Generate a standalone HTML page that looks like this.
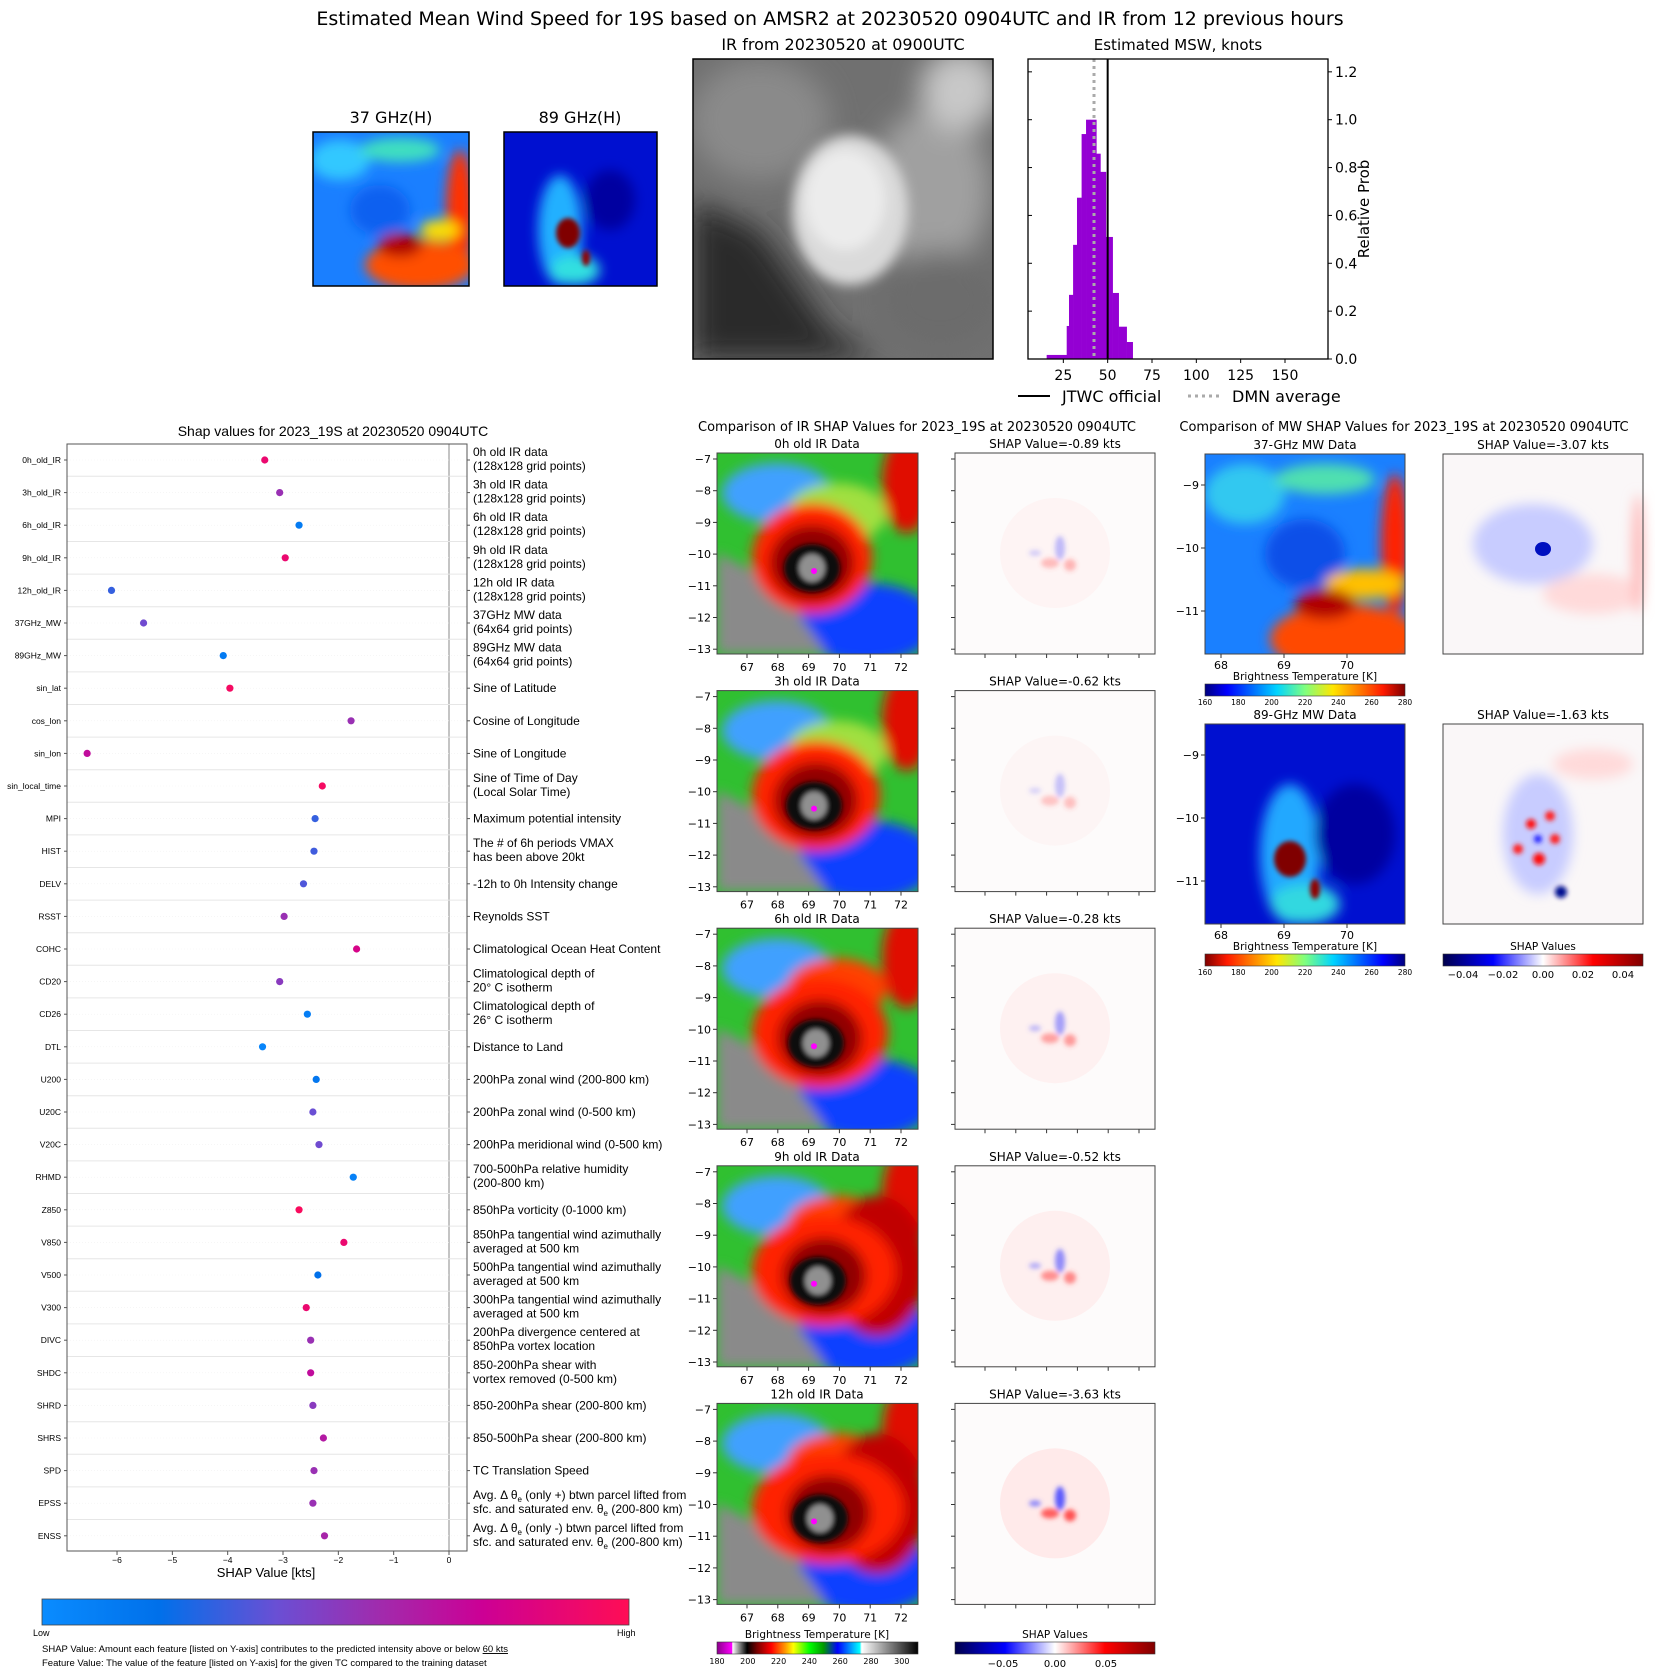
<!DOCTYPE html>
<html><head><meta charset="utf-8"><style>
html,body{margin:0;padding:0;background:#fff}
svg{display:block}
text{font-family:"DejaVu Sans","Liberation Sans",sans-serif;fill:#000}
.s{font-family:"Liberation Sans",sans-serif}
</style></head><body>
<svg id="fig" width="1655" height="1674" viewBox="0 0 1655 1674" xmlns="http://www.w3.org/2000/svg">
<defs>
<linearGradient id="jet" x1="0" x2="1" y1="0" y2="0">
<stop offset="0" stop-color="#00007f"/><stop offset="0.11" stop-color="#0000ff"/><stop offset="0.36" stop-color="#00d4ff"/><stop offset="0.5" stop-color="#7fff7f"/><stop offset="0.64" stop-color="#ffe600"/><stop offset="0.89" stop-color="#ff1a00"/><stop offset="1" stop-color="#7f0000"/></linearGradient>
<linearGradient id="jetr" x1="1" x2="0" y1="0" y2="0">
<stop offset="0" stop-color="#00007f"/><stop offset="0.11" stop-color="#0000ff"/><stop offset="0.36" stop-color="#00d4ff"/><stop offset="0.5" stop-color="#7fff7f"/><stop offset="0.64" stop-color="#ffe600"/><stop offset="0.89" stop-color="#ff1a00"/><stop offset="1" stop-color="#7f0000"/></linearGradient>
<linearGradient id="seis" x1="0" x2="1"><stop offset="0" stop-color="#00004c"/><stop offset="0.25" stop-color="#0000ff"/><stop offset="0.5" stop-color="#ffffff"/><stop offset="0.75" stop-color="#ff0000"/><stop offset="1" stop-color="#800000"/></linearGradient>
<linearGradient id="irc" x1="0" x2="1">
<stop offset="0" stop-color="#8a008a"/><stop offset="0.075" stop-color="#ff00ff"/><stop offset="0.077" stop-color="#ffffff"/><stop offset="0.15" stop-color="#000000"/><stop offset="0.2" stop-color="#7a0000"/><stop offset="0.27" stop-color="#ff0000"/><stop offset="0.34" stop-color="#ff9900"/><stop offset="0.38" stop-color="#ffff00"/><stop offset="0.46" stop-color="#00ff00"/><stop offset="0.53" stop-color="#009900"/><stop offset="0.6" stop-color="#0000ff"/><stop offset="0.71" stop-color="#00ffff"/><stop offset="0.72" stop-color="#ffffff"/><stop offset="1" stop-color="#000000"/></linearGradient>
<linearGradient id="shapc" x1="0" x2="1"><stop offset="0" stop-color="#0a8cff"/><stop offset="0.2" stop-color="#0070ea"/><stop offset="0.4" stop-color="#6a4fd4"/><stop offset="0.58" stop-color="#a22aac"/><stop offset="0.75" stop-color="#cc0095"/><stop offset="1" stop-color="#ff0d55"/></linearGradient>
<filter id="bl" x="-20%" y="-20%" width="140%" height="140%"><feGaussianBlur stdDeviation="6"/></filter>
<filter id="bl2" x="-20%" y="-20%" width="140%" height="140%"><feGaussianBlur stdDeviation="2.5"/></filter>
<filter id="bl3" x="-20%" y="-20%" width="140%" height="140%"><feGaussianBlur stdDeviation="14"/></filter>
</defs>

<text x="830" y="25" font-size="19" text-anchor="middle">Estimated Mean Wind Speed for 19S based on AMSR2 at 20230520 0904UTC and IR from 12 previous hours</text>

<text x="391" y="123" font-size="16" text-anchor="middle">37 GHz(H)</text>
<g>
<clipPath id="c37"><rect x="313" y="132" width="156" height="154"/></clipPath>
<g clip-path="url(#c37)"><rect x="313" y="132" width="156" height="154" fill="#1a7fff"/>
<g filter="url(#bl)"><ellipse cx="340" cy="160" rx="30" ry="20" fill="#30c8ff"/><ellipse cx="400" cy="150" rx="40" ry="12" fill="#40e0c0"/><ellipse cx="380" cy="210" rx="30" ry="25" fill="#1060f0"/><ellipse cx="460" cy="210" rx="14" ry="60" fill="#ff3000"/><ellipse cx="420" cy="265" rx="55" ry="25" fill="#ff5000"/><ellipse cx="400" cy="245" rx="22" ry="12" fill="#b00000"/><ellipse cx="440" cy="230" rx="20" ry="10" fill="#ffe000"/></g></g>
<rect x="313" y="132" width="156" height="154" fill="none" stroke="#000" stroke-width="1.5"/></g>

<text x="580" y="123" font-size="16" text-anchor="middle">89 GHz(H)</text>
<g>
<clipPath id="c89"><rect x="504" y="132" width="153" height="154"/></clipPath>
<g clip-path="url(#c89)"><rect x="504" y="132" width="153" height="154" fill="#0010d0"/>
<g filter="url(#bl)"><ellipse cx="560" cy="230" rx="22" ry="55" fill="#20b0ff"/><ellipse cx="575" cy="270" rx="25" ry="15" fill="#30e0e0"/><ellipse cx="610" cy="200" rx="25" ry="30" fill="#0000a0"/></g>
<g filter="url(#bl2)"><ellipse cx="568" cy="233" rx="12" ry="15" fill="#800000"/><ellipse cx="586" cy="258" rx="4" ry="8" fill="#900000"/></g></g>
<rect x="504" y="132" width="153" height="154" fill="none" stroke="#000" stroke-width="1.5"/></g>

<text x="843" y="50" font-size="16" text-anchor="middle">IR from 20230520 at 0900UTC</text>
<g>
<clipPath id="cir"><rect x="693" y="59" width="300" height="300"/></clipPath>
<g clip-path="url(#cir)"><rect x="693" y="59" width="300" height="300" fill="#707070"/>
<g filter="url(#bl3)"><polygon points="693,200 760,230 830,330 880,359 693,359" fill="#2c2c2c"/><ellipse cx="760" cy="120" rx="70" ry="60" fill="#8a8a8a"/><ellipse cx="930" cy="190" rx="60" ry="80" fill="#a0a0a0"/><ellipse cx="960" cy="90" rx="40" ry="40" fill="#c8c8c8"/><ellipse cx="940" cy="300" rx="60" ry="50" fill="#6c6c6c"/></g>
<g filter="url(#bl)"><ellipse cx="850" cy="210" rx="58" ry="75" fill="#dadada"/><ellipse cx="845" cy="200" rx="40" ry="50" fill="#ececec"/></g></g>
<rect x="693" y="59" width="300" height="300" fill="none" stroke="#000" stroke-width="1.5"/></g>

<g id="hist">
<text x="1178" y="50" font-size="15" text-anchor="middle">Estimated MSW, knots</text>
<g id="histBars"></g>
<g id="histAxes"></g>
<text transform="translate(1369,209) rotate(-90)" font-size="15" text-anchor="middle">Relative Prob</text>
<g>
<line x1="1018" y1="396" x2="1050" y2="396" stroke="#000" stroke-width="2"/>
<text x="1062" y="402" font-size="16">JTWC official</text>
<line x1="1188" y1="396" x2="1220" y2="396" stroke="#aaa" stroke-width="3" stroke-dasharray="3,4"/>
<text x="1232" y="402" font-size="16">DMN average</text></g>
</g>

<g id="shapplot">
<text class="s" x="333" y="436" font-size="14" text-anchor="middle">Shap values for 2023_19S at 20230520 0904UTC</text>
<g id="shapRows"></g>
<rect x="67" y="444" width="400" height="1107" fill="none" stroke="#555" stroke-width="1"/>
<g id="shapAxis"></g>
<text class="s" x="266" y="1577" font-size="13" text-anchor="middle">SHAP Value [kts]</text>
<rect x="42" y="1599" width="587" height="26" fill="url(#shapc)" stroke="#444" stroke-width="0.8"/>
<text class="s" x="33" y="1636" font-size="9">Low</text>
<text class="s" x="617" y="1636" font-size="9">High</text>
<text class="s" x="42" y="1652" font-size="9.5">SHAP Value: Amount each feature [listed on Y-axis] contributes to the predicted intensity above or below <tspan text-decoration="underline">60 kts</tspan></text>
<text class="s" x="42" y="1666" font-size="9.5">Feature Value: The value of the feature [listed on Y-axis] for the given TC compared to the training dataset</text>
</g>

<text x="917" y="431" font-size="13" text-anchor="middle">Comparison of IR SHAP Values for 2023_19S at 20230520 0904UTC</text>
<g id="irPanels"></g>
<g>
<text x="817" y="1638" font-size="10.5" text-anchor="middle">Brightness Temperature [K]</text>
<rect x="717" y="1642" width="201" height="12" fill="url(#irc)" stroke="#333" stroke-width="0.6"/>
<g id="irCbTicks"></g></g>
<g>
<text x="1055" y="1638" font-size="10.5" text-anchor="middle">SHAP Values</text>
<rect x="955" y="1642" width="200" height="12" fill="url(#seis)" stroke="#333" stroke-width="0.6"/>
<text x="1003" y="1667" font-size="10" text-anchor="middle">−0.05</text><text x="1055" y="1667" font-size="10" text-anchor="middle">0.00</text><text x="1106" y="1667" font-size="10" text-anchor="middle">0.05</text></g>

<text x="1404" y="431" font-size="13" text-anchor="middle">Comparison of MW SHAP Values for 2023_19S at 20230520 0904UTC</text>
<g id="mwPanels"></g>
</svg>
<script>
var NS="http://www.w3.org/2000/svg";
function mk(t,a,p){var e=document.createElementNS(NS,t);for(var k in a)e.setAttribute(k,a[k]);(p||document.getElementById('fig')).appendChild(e);return e;}

var binEdges=[15.6,26.9,28.2,30.5,32.7,35.3,37.8,40.0,43.6,45.9,49.0,52.8,56.2,60.7,64.1];
var binHeights=[0.017,0.138,0.268,0.477,0.674,0.94,1.0,1.0,0.858,0.782,0.51,0.276,0.135,0.071];
var jtwcValue=50;
var dmnValue=42.3;
var histXTicks=[25,50,75,100,125,150];
var histYTicks=[0.0,0.2,0.4,0.6,0.8,1.0,1.2];

var HX0=1028,HX1=1328,HY0=59,HY1=359;
function hx(v){return 1019+(v)*1.7733;}
function hy(v){return 359-v*239.3;}
var hb=document.getElementById('histBars');
for(var i=0;i<binHeights.length;i++){
 var r=mk('rect',{x:hx(binEdges[i]),y:hy(binHeights[i]),width:hx(binEdges[i+1])-hx(binEdges[i])+0.3,height:hy(0)-hy(binHeights[i]),fill:'#9400d3'},hb);
 
 
}
var ha=document.getElementById('histAxes');
var dl=mk('line',{x1:hx(dmnValue),x2:hx(dmnValue),y1:HY0,y2:HY1,stroke:'#aaa','stroke-width':3,'stroke-dasharray':'3,4'},ha);


var jl=mk('line',{x1:hx(jtwcValue),x2:hx(jtwcValue),y1:HY0,y2:HY1,stroke:'#000','stroke-width':2},ha);


mk('rect',{x:HX0,y:HY0,width:HX1-HX0,height:HY1-HY0,fill:'none',stroke:'#000','stroke-width':1.3},ha);
histXTicks.forEach(function(t){
 mk('line',{x1:hx(t),x2:hx(t),y1:HY1,y2:HY1+4,stroke:'#000'},ha);
 var tx=mk('text',{x:hx(t),y:HY1+21,'font-size':14,'text-anchor':'middle'},ha);tx.textContent=t;
 
 
});
histYTicks.forEach(function(t){
 mk('line',{x1:HX0,x2:HX0+4,y1:hy(t),y2:hy(t),stroke:'#000'},ha);
 mk('line',{x1:HX1,x2:HX1+4,y1:hy(t),y2:hy(t),stroke:'#000'},ha);
 var tx=mk('text',{x:HX1+7,y:hy(t)+5,'font-size':14},ha);tx.textContent=t.toFixed(1);
 
 
});

var featureNames=["0h_old_IR","3h_old_IR","6h_old_IR","9h_old_IR","12h_old_IR","37GHz_MW","89GHz_MW","sin_lat","cos_lon","sin_lon","sin_local_time","MPI","HIST","DELV","RSST","COHC","CD20","CD26","DTL","U200","U20C","V20C","RHMD","Z850","V850","V500","V300","DIVC","SHDC","SHRD","SHRS","SPD","EPSS","ENSS"];
var shapValues=[-3.33,-3.06,-2.71,-2.96,-6.1,-5.52,-4.08,-3.96,-1.77,-6.54,-2.29,-2.42,-2.44,-2.63,-2.98,-1.67,-3.06,-2.56,-3.37,-2.40,-2.46,-2.35,-1.73,-2.71,-1.90,-2.37,-2.58,-2.5,-2.5,-2.46,-2.27,-2.44,-2.46,-2.25];
var featureValues=[0.9,0.55,0.12,0.9,0.3,0.42,0.12,0.95,0.55,0.7,0.95,0.3,0.32,0.35,0.55,0.8,0.5,0.1,0.05,0.15,0.4,0.42,0.08,0.97,0.9,0.2,0.9,0.55,0.7,0.5,0.65,0.55,0.55,0.6];
var featureDescriptions=[["0h old IR data","(128x128 grid points)"],["3h old IR data","(128x128 grid points)"],["6h old IR data","(128x128 grid points)"],["9h old IR data","(128x128 grid points)"],["12h old IR data","(128x128 grid points)"],["37GHz MW data","(64x64 grid points)"],["89GHz MW data","(64x64 grid points)"],["Sine of Latitude"],["Cosine of Longitude"],["Sine of Longitude"],["Sine of Time of Day","(Local Solar Time)"],["Maximum potential intensity"],["The # of 6h periods VMAX","has been above 20kt"],["-12h to 0h Intensity change"],["Reynolds SST"],["Climatological Ocean Heat Content"],["Climatological depth of","20° C isotherm"],["Climatological depth of","26° C isotherm"],["Distance to Land"],["200hPa zonal wind (200-800 km)"],["200hPa zonal wind (0-500 km)"],["200hPa meridional wind (0-500 km)"],["700-500hPa relative humidity","(200-800 km)"],["850hPa vorticity (0-1000 km)"],["850hPa tangential wind azimuthally","averaged at 500 km"],["500hPa tangential wind azimuthally","averaged at 500 km"],["300hPa tangential wind azimuthally","averaged at 500 km"],["200hPa divergence centered at","850hPa vortex location"],["850-200hPa shear with","vortex removed (0-500 km)"],["850-200hPa shear (200-800 km)"],["850-500hPa shear (200-800 km)"],["TC Translation Speed"],["EPSS"],["ENSS"]];
var shapXTicks=[-6,-5,-4,-3,-2,-1,0];

function sx(v){return 449+v*55.33;}
function sy(i){return 460+i*32.6;}
var cstops=[[0,[10,140,255]],[0.2,[0,112,234]],[0.4,[106,79,212]],[0.58,[162,42,172]],[0.75,[204,0,149]],[1,[255,13,85]]];
function cmap(v){for(var k=1;k<cstops.length;k++){if(v<=cstops[k][0]){var a=cstops[k-1],b=cstops[k],t=(v-a[0])/(b[0]-a[0]);return 'rgb('+[0,1,2].map(function(j){return Math.round(a[1][j]+t*(b[1][j]-a[1][j]));}).join(',')+')';}}return 'rgb(255,13,85)';}
var rows=document.getElementById('shapRows');
mk('line',{x1:sx(0),x2:sx(0),y1:444,y2:1551,stroke:'#888','stroke-width':1},rows);
for(var i=0;i<featureNames.length;i++){
 var y=sy(i);
 if(i>0){mk('line',{x1:67,x2:467,y1:y-16.3,y2:y-16.3,stroke:'#e6e6e6','stroke-width':1},rows);}
 mk('line',{x1:67,x2:467,y1:y,y2:y,stroke:'#f2f2f2','stroke-width':0.6,'stroke-dasharray':'1,2'},rows);
 var lb=mk('text',{x:61,y:y+3,'font-size':8.5,'text-anchor':'end','class':'s'},rows);lb.textContent=featureNames[i];
 
 
 mk('line',{x1:64,x2:67,y1:y,y2:y,stroke:'#555'},rows);
 mk('line',{x1:467,x2:470,y1:y,y2:y,stroke:'#555'},rows);
 var d=mk('circle',{cx:sx(shapValues[i]),cy:y,r:3.6,fill:cmap(featureValues[i])},rows);
 
 
 var desc=featureDescriptions[i];
 var dt=mk('text',{x:473,y:0,'font-size':12,'class':'s'},rows);
 
 
 if(desc[0]==="EPSS"||desc[0]==="ENSS"){
  var sg=desc[0]==="EPSS"?"+":"-";
  var t1=mk('tspan',{x:473,y:y-4},dt);t1.textContent='Avg. Δ θ';
  var s1=mk('tspan',{'font-size':8,dy:3},t1);s1.textContent='e';
  var r1=mk('tspan',{dy:-3},t1);r1.textContent=' (only '+sg+') btwn parcel lifted from';
  var t2=mk('tspan',{x:473,y:y+10},dt);t2.textContent='sfc. and saturated env. θ';
  var s2=mk('tspan',{'font-size':8,dy:3},t2);s2.textContent='e';
  var r2=mk('tspan',{dy:-3},t2);r2.textContent=' (200-800 km)';
 } else if(desc.length===2){
  var a1=mk('tspan',{x:473,y:y-4},dt);a1.textContent=desc[0];
  var a2=mk('tspan',{x:473,y:y+10},dt);a2.textContent=desc[1];
 } else {dt.setAttribute('y',y+4);dt.textContent=desc[0];}
}
var sa=document.getElementById('shapAxis');
shapXTicks.forEach(function(t){
 mk('line',{x1:sx(t),x2:sx(t),y1:1551,y2:1555,stroke:'#555'},sa);
 var tx=mk('text',{x:sx(t),y:1563,'font-size':8.5,'text-anchor':'middle','class':'s'},sa);tx.textContent=(t<0?'−'+(-t):t);
 
 
});

var irLabels=["0h old IR Data","3h old IR Data","6h old IR Data","9h old IR Data","12h old IR Data"];
var irShapTitles=["SHAP Value=-0.89 kts","SHAP Value=-0.62 kts","SHAP Value=-0.28 kts","SHAP Value=-0.52 kts","SHAP Value=-3.63 kts"];
var irShapStrength=[0.35,0.3,0.5,0.6,0.9];
var latTicks=[-7,-8,-9,-10,-11,-12,-13];
var lonTicks=[67,68,69,70,71,72];
var irCbTicks=[180,200,220,240,260,280,300];
var P=document.getElementById('irPanels');
function lonX(x0,v){return x0+30+(v-67)*30.8;}
function latY(y0,v){return y0+6+(-7-v)*31.7;}
for(var r=0;r<5;r++){
 var y0=453+r*237.6,x0=717,x1=955;
 var g=mk('g',{},P);
 
 
 var t=mk('text',{x:x0+100,y:y0-5,'font-size':12,'text-anchor':'middle'},g);t.textContent=irLabels[r];
 var t2=mk('text',{x:x1+100,y:y0-5,'font-size':12,'text-anchor':'middle'},g);t2.textContent=irShapTitles[r];
 var cid='irc'+r;var cp=mk('clipPath',{id:cid},g);mk('rect',{x:x0,y:y0,width:201,height:201},cp);
 var im=mk('g',{'clip-path':'url(#'+cid+')'},g);
 
 
 mk('rect',{x:x0,y:y0,width:201,height:201,fill:'#30c030'},im);
 var b=mk('g',{filter:'url(#bl)'},im);
 var red=r===0?0:r*4;
 mk('ellipse',{cx:x0+60,cy:y0+40,rx:55,ry:30,fill:'#40a0ff'},b);
 mk('ellipse',{cx:x0+150,cy:y0+170,rx:70,ry:40,fill:'#1040ff'},b);
 mk('ellipse',{cx:x0+120,cy:y0+60,rx:50,ry:30,fill:(r>=2?'#ff4000':'#a0e040')},b);
 mk('ellipse',{cx:x0+190,cy:y0+30,rx:25,ry:50,fill:'#e01000'},b);
 if(r>=3)mk('ellipse',{cx:x0+160,cy:y0+100,rx:50,ry:70,fill:'#c00000'},b);
 mk('polygon',{points:[x0,y0+100,x0+60,y0+130,x0+110,y0+201,x0,y0+201].join(','),fill:'#8a8a8a'},b);
 mk('ellipse',{cx:x0+95+red,cy:y0+105,rx:60+red,ry:55,fill:'#ff2000'},b);
 mk('ellipse',{cx:x0+95+red,cy:y0+110,rx:42,ry:38,fill:'#900000'},b);
 var b2=mk('g',{filter:'url(#bl2)'},im);
 mk('ellipse',{cx:x0+95+red/2,cy:y0+115,rx:28,ry:24,fill:'#101010'},b2);
 mk('ellipse',{cx:x0+95+red/2,cy:y0+115,rx:13,ry:14,fill:'#909090'},b2);
 mk('circle',{cx:x0+97,cy:y0+118,r:3,fill:'#ff00ff'},im);
 mk('rect',{x:x0,y:y0,width:201,height:201,fill:'none',stroke:'#444','stroke-width':1},g);
 latTicks.forEach(function(v){var yy=latY(y0,v);mk('line',{x1:x0-4,x2:x0,y1:yy,y2:yy,stroke:'#333'},g);
  var tx=mk('text',{x:x0-6,y:yy+4,'font-size':11,'text-anchor':'end'},g);tx.textContent='−'+(-v);
  mk('line',{x1:x1-4,x2:x1,y1:yy,y2:yy,stroke:'#333'},g);});
 lonTicks.forEach(function(v){var xx=lonX(x0,v);mk('line',{x1:xx,x2:xx,y1:y0+201,y2:y0+205,stroke:'#333'},g);
  var tx=mk('text',{x:xx,y:y0+218,'font-size':11,'text-anchor':'middle'},g);tx.textContent=v;
  mk('line',{x1:lonX(x1,v),x2:lonX(x1,v),y1:y0+201,y2:y0+205,stroke:'#333'},g);});
 var sp=mk('g',{},g);
 
 
 mk('rect',{x:x1,y:y0,width:200,height:201,fill:'#fdfbfb'},sp);
 var s=irShapStrength[r];
 mk('circle',{cx:x1+100,cy:y0+100,r:55,fill:'#ffe8e8','fill-opacity':s},sp);
 var sb2=mk('g',{filter:'url(#bl2)'},sp);
 mk('ellipse',{cx:x1+105,cy:y0+95,rx:5,ry:12,fill:'#4a4aff','fill-opacity':s},sb2);
 mk('ellipse',{cx:x1+95,cy:y0+110,rx:9,ry:5,fill:'#ff5050','fill-opacity':s},sb2);
 mk('ellipse',{cx:x1+115,cy:y0+112,rx:6,ry:6,fill:'#ff4040','fill-opacity':s},sb2);
 mk('ellipse',{cx:x1+80,cy:y0+100,rx:6,ry:3,fill:'#6060ff','fill-opacity':s*0.8},sb2);
 mk('rect',{x:x1,y:y0,width:200,height:201,fill:'none',stroke:'#444','stroke-width':1},g);
}
var ict=document.getElementById('irCbTicks');
irCbTicks.forEach(function(v){var xx=717+(v-180)*1.54;var tx=mk('text',{x:xx,y:1664,'font-size':8,'text-anchor':'middle'},ict);tx.textContent=v;});

var mwLabels=["37-GHz MW Data","89-GHz MW Data"];
var mwShapTitles=["SHAP Value=-3.07 kts","SHAP Value=-1.63 kts"];
var mwLatTicks=[-9,-10,-11];
var mwLonTicks=[68,69,70];
var btTicks=[160,180,200,220,240,260,280];
var shapCbTicks=[-0.04,-0.02,0.00,0.02,0.04];
var M=document.getElementById('mwPanels');
for(var r=0;r<2;r++){
 var y0=r===0?454:724,x0=1205,x1=1443,W=200,H=200;
 var g=mk('g',{},M);
 
 
 var t=mk('text',{x:x0+100,y:y0-5,'font-size':12,'text-anchor':'middle'},g);t.textContent=mwLabels[r];
 var t2=mk('text',{x:x1+100,y:y0-5,'font-size':12,'text-anchor':'middle'},g);t2.textContent=mwShapTitles[r];
 var cid='mwc'+r;var cp=mk('clipPath',{id:cid},g);mk('rect',{x:x0,y:y0,width:W,height:H},cp);
 var im=mk('g',{'clip-path':'url(#'+cid+')'},g);
 
 
 if(r===0){
  mk('rect',{x:x0,y:y0,width:W,height:H,fill:'#1a80ff'},im);
  var b=mk('g',{filter:'url(#bl)'},im);
  mk('ellipse',{cx:x0+40,cy:y0+40,rx:40,ry:30,fill:'#30c8f0'},b);
  mk('ellipse',{cx:x0+120,cy:y0+25,rx:50,ry:15,fill:'#50e0b0'},b);
  mk('ellipse',{cx:x0+100,cy:y0+100,rx:40,ry:35,fill:'#1050e8'},b);
  mk('ellipse',{cx:x0+190,cy:y0+90,rx:14,ry:70,fill:'#ff2000'},b);
  mk('ellipse',{cx:x0+140,cy:y0+185,rx:75,ry:35,fill:'#ff4a00'},b);
  mk('ellipse',{cx:x0+160,cy:y0+130,rx:40,ry:15,fill:'#ffc000'},b);
  mk('ellipse',{cx:x0+120,cy:y0+150,rx:30,ry:15,fill:'#b00000'},b);
 } else {
  mk('rect',{x:x0,y:y0,width:W,height:H,fill:'#0010d0'},im);
  var b=mk('g',{filter:'url(#bl)'},im);
  mk('ellipse',{cx:x0+85,cy:y0+130,rx:30,ry:70,fill:'#20a8ff'},b);
  mk('ellipse',{cx:x0+100,cy:y0+180,rx:35,ry:20,fill:'#30d8e0'},b);
  mk('ellipse',{cx:x0+150,cy:y0+110,rx:40,ry:50,fill:'#0000a0'},b);
  var b2=mk('g',{filter:'url(#bl2)'},im);
  mk('ellipse',{cx:x0+85,cy:y0+135,rx:16,ry:18,fill:'#800000'},b2);
  mk('ellipse',{cx:x0+110,cy:y0+165,rx:5,ry:10,fill:'#900000'},b2);
 }
 mk('rect',{x:x0,y:y0,width:W,height:H,fill:'none',stroke:'#444'},g);
 mwLatTicks.forEach(function(v){var yy=y0+31+(-9-v)*63;mk('line',{x1:x0-4,x2:x0,y1:yy,y2:yy,stroke:'#333'},g);
  var tx=mk('text',{x:x0-6,y:yy+4,'font-size':11,'text-anchor':'end'},g);tx.textContent='−'+(-v);});
 mwLonTicks.forEach(function(v){var xx=x0+16+(v-68)*63;mk('line',{x1:xx,x2:xx,y1:y0+H,y2:y0+H+4,stroke:'#333'},g);
  var tx=mk('text',{x:xx,y:y0+H+15,'font-size':11,'text-anchor':'middle'},g);tx.textContent=v;});
 var sp=mk('g',{},g);
 
 
 mk('rect',{x:x1,y:y0,width:W,height:H,fill:'#faf7f8'},sp);
 var sb=mk('g',{filter:'url(#bl)'},sp);
 if(r===0){
  mk('ellipse',{cx:x1+90,cy:y0+90,rx:60,ry:40,fill:'#c8ccff'},sb);
  mk('ellipse',{cx:x1+150,cy:y0+140,rx:50,ry:20,fill:'#ffdada'},sb);
  mk('ellipse',{cx:x1+195,cy:y0+100,rx:6,ry:60,fill:'#ffb8b8'},sb);
  mk('ellipse',{cx:x1+100,cy:y0+95,rx:8,ry:7,fill:'#0010c0'},sp);
 } else {
  mk('ellipse',{cx:x1+95,cy:y0+110,rx:35,ry:60,fill:'#c8ccff'},sb);
  mk('ellipse',{cx:x1+150,cy:y0+40,rx:40,ry:15,fill:'#ffdada'},sb);
  var s2=mk('g',{filter:'url(#bl2)'},sp);
  mk('circle',{cx:x1+88,cy:y0+100,r:5,fill:'#ff1010'},s2);
  mk('circle',{cx:x1+75,cy:y0+125,r:5,fill:'#ff2020'},s2);
  mk('circle',{cx:x1+96,cy:y0+135,r:6,fill:'#ff1010'},s2);
  mk('circle',{cx:x1+107,cy:y0+92,r:5,fill:'#ff2020'},s2);
  mk('circle',{cx:x1+112,cy:y0+115,r:5,fill:'#ff2020'},s2);
  mk('circle',{cx:x1+95,cy:y0+115,r:4,fill:'#2020ff'},s2);
  mk('circle',{cx:x1+118,cy:y0+168,r:6,fill:'#000a90'},s2);
 }
 mk('rect',{x:x1,y:y0,width:W,height:H,fill:'none',stroke:'#444'},g);
 var cy=y0+H+30;
 var lab=mk('text',{x:x0+100,y:cy-4,'font-size':10.5,'text-anchor':'middle'},g);lab.textContent='Brightness Temperature [K]';
 var cb=mk('rect',{x:x0,y:cy,width:W,height:12,fill:r===0?'url(#jet)':'url(#jetr)',stroke:'#333','stroke-width':0.6},g);
 
 
 btTicks.forEach(function(v){var tx=mk('text',{x:x0+(v-160)/120*W,y:cy+21,'font-size':7.5,'text-anchor':'middle'},g);tx.textContent=v;});
 if(r===1){
  var l2=mk('text',{x:x1+100,y:cy-4,'font-size':10.5,'text-anchor':'middle'},g);l2.textContent='SHAP Values';
  var cb2=mk('rect',{x:x1,y:cy,width:W,height:12,fill:'url(#seis)',stroke:'#333','stroke-width':0.6},g);
  
  
  shapCbTicks.forEach(function(v){var tx=mk('text',{x:x1+100+v*2000,y:cy+24,'font-size':10,'text-anchor':'middle'},g);tx.textContent=(v<0?'−':'')+Math.abs(v).toFixed(2);});
 }
}
</script>
</body></html>
